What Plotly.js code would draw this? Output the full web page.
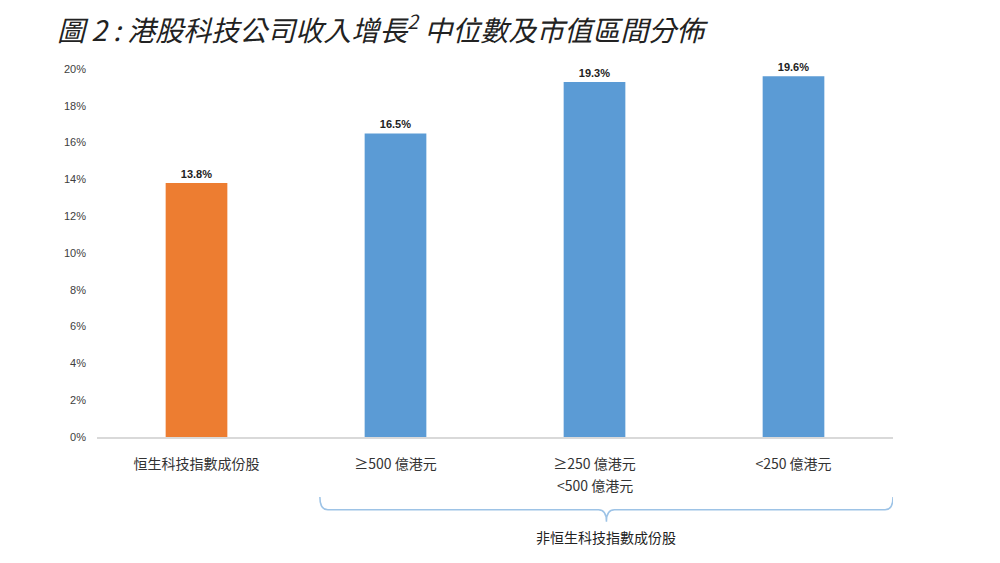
<!DOCTYPE html>
<html>
<head>
<meta charset="utf-8">
<script src="https://cdn.plot.ly/plotly-3.0.1.min.js"></script>
<style>
  body { margin: 0; background: #fff; }
  #chart { width: 1000px; height: 563px; }
</style>
</head>
<body>
<div id="chart"></div>
<script>
    // categories and median revenue growth (%)
    var categories = ['恒生科技指數成份股', '≥500 億港元', '≥250 億港元', '<250 億港元'];
    var secondLines = ['', '', '<500 億港元', ''];
    var growth = [13.8, 16.5, 19.3, 19.6];
    var barColors = ['#ED7D31', '#5B9BD5', '#5B9BD5', '#5B9BD5'];
    var tickVals = [0, 2, 4, 6, 8, 10, 12, 14, 16, 18, 20];
    var groupLabel = '非恒生科技指數成份股';

    var font = '"Noto Sans CJK TC", "Noto Sans", sans-serif';

    var data = [{
        type: 'bar',
        x: categories,
        y: growth,
        marker: {color: barColors},
        text: growth.map(function (v) { return '<b>' + v.toFixed(1) + '%</b>'; }),
        textposition: 'outside',
        textfont: {size: 11, color: '#222', family: 'Liberation Sans, Arial, sans-serif'},
        cliponaxis: false,
        hoverinfo: 'skip'
    }];

    // brace under the non-index groups (x in category units, y in paper units)
    var brace = 'M 0.62,-0.163 Q 0.62,-0.198 0.66,-0.198 L 2.02,-0.198 Q 2.06,-0.198 2.06,-0.23 ' +
                'Q 2.06,-0.198 2.10,-0.198 L 3.46,-0.198 Q 3.5,-0.198 3.5,-0.163';

    var annotations = [{
        xref: 'x', yref: 'paper',
        x: 2.06, y: -0.272, yanchor: 'middle',
        text: groupLabel,
        showarrow: false,
        font: {size: 14, color: '#222'}
    }];
    secondLines.forEach(function (t, i) {
        if (!t) return;
        annotations.push({
            xref: 'x', yref: 'paper',
            x: categories[i], y: -0.13, yanchor: 'middle',
            text: t,
            showarrow: false,
            font: {size: 14, color: '#333'}
        });
    });

    var layout = {
        width: 1000,
        height: 563,
        margin: {l: 97, r: 107, t: 69, b: 126},
        paper_bgcolor: '#fff',
        plot_bgcolor: '#fff',
        showlegend: false,
        bargap: 0.69,
        font: {family: font, color: '#404040'},
        title: {
            text: '<i>圖 2 : 港股科技公司收入增長<sup>2</sup> 中位數及市值區間分佈</i>',
            x: 0.057, xanchor: 'left', y: 0.945, yanchor: 'middle',
            font: {size: 28, color: '#222', family: font}
        },
        xaxis: {
            type: 'category',
            range: [-0.5, 3.5],
            showgrid: false,
            showline: true,
            linecolor: '#d9d9d9',
            linewidth: 1.5,
            ticks: '',
            ticklabelstandoff: 14,
            tickfont: {size: 14, color: '#333'},
            fixedrange: true
        },
        yaxis: {
            range: [0, 20],
            tickvals: tickVals,
            ticktext: tickVals.map(function (v) { return v + '%'; }),
            showgrid: false,
            zeroline: false,
            showline: false,
            ticks: '',
            ticklabelstandoff: 10,
            tickfont: {size: 11, color: '#404040', family: 'Liberation Sans, Arial, sans-serif'},
            fixedrange: true
        },
        shapes: [{
            type: 'path',
            xref: 'x', yref: 'paper',
            path: brace,
            line: {color: '#9DC3E6', width: 1.5}
        }],
        annotations: annotations
    };

    Plotly.newPlot('chart', data, layout, {displayModeBar: false, staticPlot: true});
</script>
</body>
</html>
